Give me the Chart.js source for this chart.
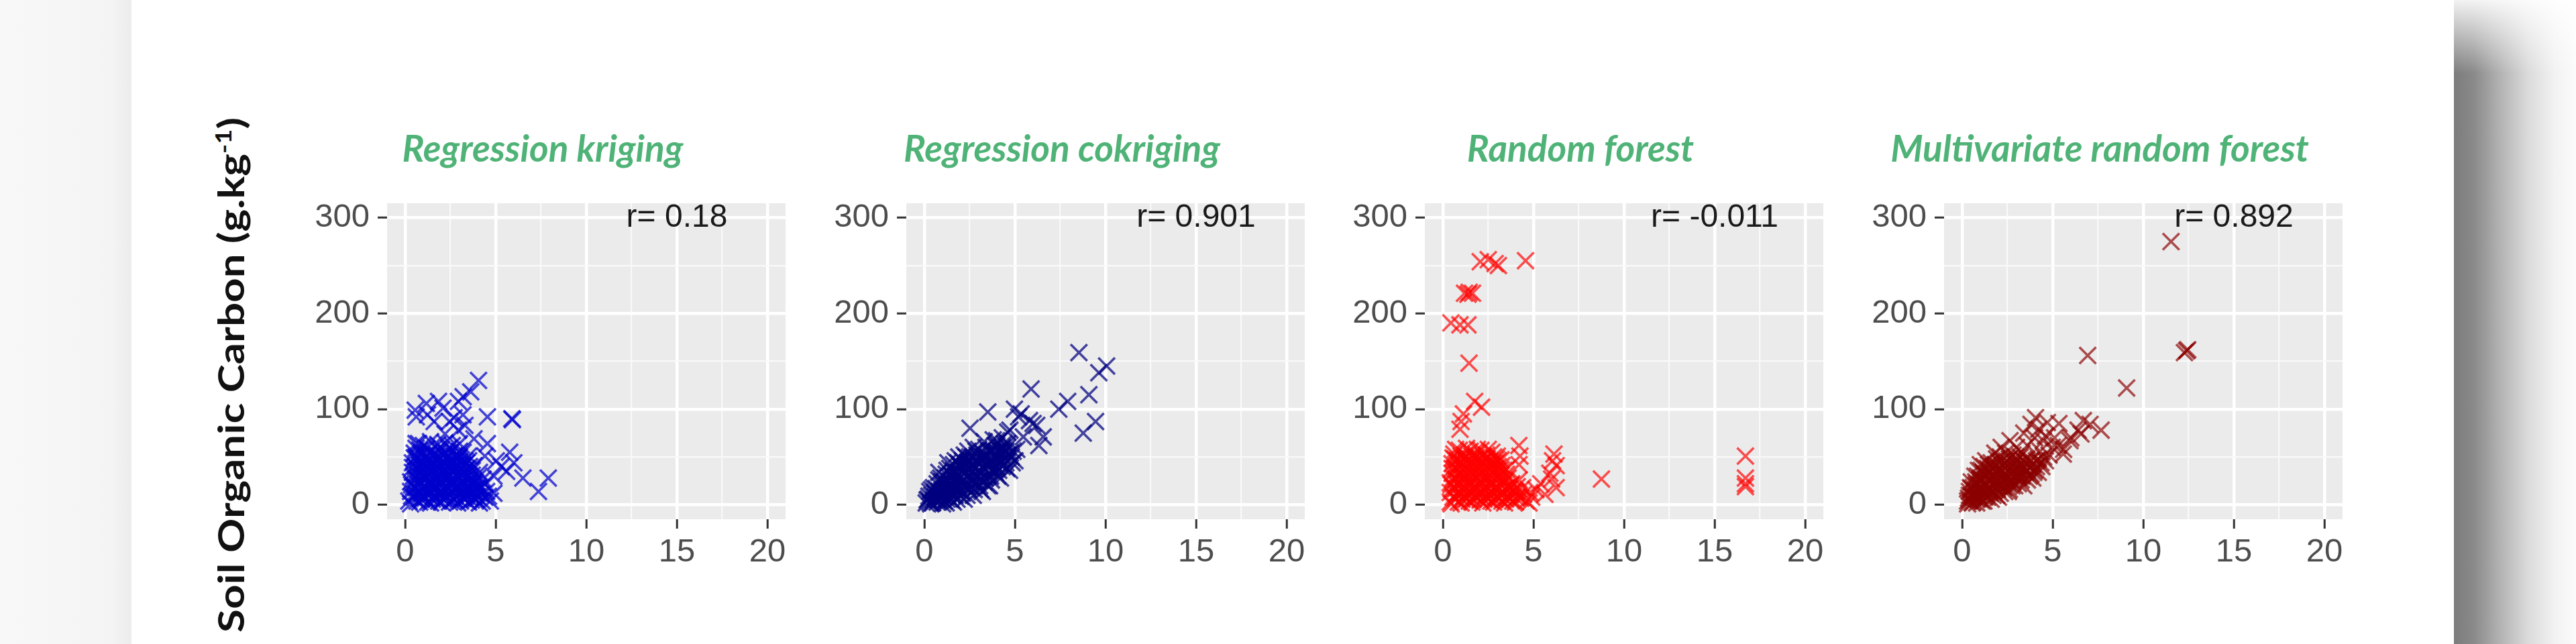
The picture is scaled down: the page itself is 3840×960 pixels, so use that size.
<!DOCTYPE html>
<html>
<head>
<meta charset="utf-8">
<title>Soil organic carbon - predicted vs observed</title>
<script src="https://cdn.jsdelivr.net/npm/chart.js@4.4.1/dist/chart.umd.min.js"></script>
<style>
    html, body { margin: 0; padding: 0; }
    body { width: 3840px; height: 960px; position: relative; overflow: hidden; background: #fff; }
    #leftMargin { position: absolute; left: 0; top: 0; width: 196px; height: 960px;
        background: linear-gradient(to right, #f8f8f8, #f4f4f4 85%, #ececec); }
    #rightShadow { position: absolute; left: 3658px; top: 0; width: 182px; height: 960px;
        background: linear-gradient(to right, #7c7c7c 0px, #8a8a8a 30px, #b4b4b4 70px, #dadada 110px, #f2f2f2 150px, #fbfbfb 182px); }
    #rightShadow::after { content: ""; position: absolute; left: 0; top: 0; right: 0; bottom: 0;
        background: linear-gradient(to bottom, rgba(255,255,255,0.9) 0px, rgba(255,255,255,0) 110px); }
    #yTitle { position: absolute; left: 343px; top: 559px; white-space: nowrap;
        font-family: Lato, "Open Sans", sans-serif; font-weight: bold; font-size: 54px; color: #111;
        transform-origin: center center; }
    #yTitle sup { font-size: 0.6em; }
    canvas { position: absolute; }
</style>
</head>
<body>
<div id="leftMargin"></div>
<div id="rightShadow"></div>
<div id="yTitle">Soil Organic Carbon (g.kg<sup>-1</sup>)</div>
<script>
const xMajorTicks = [0, 5, 10, 15, 20];
const xMinorTicks = [2.5, 7.5, 12.5, 17.5];
const yMajorTicks = [0, 100, 200, 300];
const yMinorTicks = [50, 150, 250];

const panelTitles = ["Regression kriging", "Regression cokriging", "Random forest", "Multivariate random forest"];
const correlationLabels = ["r= 0.18", "r= 0.901", "r= -0.011", "r= 0.892"];
const markerColors = ["rgba(0, 0, 205, 0.72)", "rgba(0, 0, 128, 0.72)", "rgba(255, 0, 0, 0.68)", "rgba(139, 0, 0, 0.68)"];

// regression kriging [x, y]
const rkPoints = [
    [4.05,130],[3.62,118],[3.2,113],[2.94,108],[1.84,108],[1.17,106],[0.55,99],[0.61,92],[1.23,94],[2.09,101],
    [2.45,87],[4.54,92],[5.89,90],[5.92,89],[3.19,94],[1.6,87],[2.94,78],[2.2,74],[4.54,64],[3.8,69],
    [5.77,55],[6.0,44],[6.5,28],[7.36,14],[7.9,28],[5.03,46],[4.4,51],[0.74,64],[3.3,83],[2.7,91],
    [5.3,40],[5.6,35],[4.9,30],
    [0.2,4],[0.5,8],[0.8,3],[1.1,7],[1.4,2],[1.7,6],[2.0,3],[2.3,8],[2.6,4],[2.9,2],[3.2,7],[3.5,3],[3.8,6],[4.1,2],[4.4,8],[4.7,4],
    [0.3,14],[0.6,18],[0.9,12],[1.2,16],[1.5,13],[1.8,18],[2.1,12],[2.4,17],[2.7,14],[3.0,18],[3.3,12],[3.6,16],[3.9,13],[4.2,18],[4.5,14],[4.9,12],
    [0.3,24],[0.6,27],[0.9,22],[1.2,28],[1.5,23],[1.8,26],[2.1,22],[2.4,28],[2.7,24],[3.0,27],[3.3,22],[3.6,26],[3.9,23],[4.3,27],
    [0.4,34],[0.7,37],[1.0,32],[1.3,36],[1.6,33],[1.9,38],[2.2,33],[2.5,36],[2.8,32],[3.1,37],[3.4,33],[3.7,36],[4.1,34],
    [0.4,44],[0.7,47],[1.0,42],[1.3,46],[1.6,43],[1.9,48],[2.2,43],[2.5,46],[2.8,42],[3.1,47],[3.4,44],[3.8,41],
    [0.5,54],[0.8,57],[1.1,52],[1.4,56],[1.7,53],[2.0,58],[2.3,54],[2.6,57],[2.9,52],[3.2,55],[3.5,51],
    [0.6,64],[1.0,62],[1.4,66],[1.8,63],[2.2,65],[2.6,62],[3.0,64],
    [0.35,9],[0.65,4],[0.95,8],[1.25,3],[1.55,9],[1.85,4],[2.15,7],[2.45,3],[2.75,9],[3.05,4],[3.35,9],[3.65,5],[3.95,9],[4.25,4],
    [0.45,19],[0.75,14],[1.05,20],[1.35,15],[1.65,19],[1.95,14],[2.25,20],[2.55,15],[2.85,19],[3.15,14],[3.45,20],[3.75,15],[4.05,19],
    [0.45,30],[0.75,25],[1.05,29],[1.35,24],[1.65,30],[1.95,25],[2.25,29],[2.55,24],[2.85,30],[3.15,25],[3.45,29],[3.75,24],
    [0.55,40],[0.85,35],[1.15,41],[1.45,36],[1.75,40],[2.05,35],[2.35,41],[2.65,36],[2.95,40],[3.25,35],[3.55,40],
    [0.6,50],[0.9,45],[1.2,50],[1.5,45],[1.8,51],[2.1,46],[2.4,50],[2.7,45],[3.0,50],[3.3,46],
    [0.3,1],[0.6,11],[0.9,6],[1.2,11],[1.5,6],[1.8,11],[2.1,6],[2.4,11],[2.7,6],[3.0,11],[3.3,6],[3.6,11],[3.9,6],[4.2,11],[4.6,9],
    [0.35,21],[0.7,21],[1.0,17],[1.3,21],[1.6,17],[1.9,21],[2.2,17],[2.5,21],[2.8,17],[3.1,21],[3.4,17],[3.7,21],[4.0,17],[4.4,22],
    [0.4,39],[0.7,31],[1.0,37],[1.3,31],[1.6,38],[1.9,31],[2.2,37],[2.5,31],[2.8,38],[3.1,31],[3.4,38],[3.7,31],[4.0,28],
    [0.5,49],[0.8,41],[1.1,48],[1.4,41],[1.7,48],[2.0,41],[2.3,48],[2.6,41],[2.9,48],[3.2,41],[3.5,46],
    [0.6,59],[0.9,52],[1.2,59],[1.5,52],[1.8,58],[2.1,52],[2.4,59],[2.7,51],[3.0,56]
];

// regression cokriging [x, y]
const rckPoints = [
    [8.53,159],[10.06,145],[9.63,138],[5.89,121],[9.08,115],[7.91,108],[7.42,100],[3.5,97],[4.97,100],[5.34,95],
    [9.45,87],[8.77,75],[6.0,85],[5.8,88],[6.2,83],[6.56,71],[6.32,62],[4.6,76],[2.52,80],[3.99,67],
    [4.72,78],[5.2,92],[5.46,71],[4.6,60],
    [0.1,2],[0.2,6],[0.3,3],[0.4,10],[0.5,5],[0.3,14],[0.5,18],
    [0.6,8],[0.7,3],[0.8,14],[0.9,6],[1.0,20],[0.7,22],[0.9,28],[1.0,12],[0.8,34],[1.0,1],
    [1.1,4],[1.2,16],[1.3,9],[1.4,25],[1.5,14],[1.2,32],[1.4,38],[1.5,5],[1.3,44],[1.6,3],
    [1.6,20],[1.7,10],[1.8,30],[1.9,16],[2.0,40],[1.7,46],[1.9,50],[2.0,24],[1.6,36],[2.2,6],
    [2.1,12],[2.2,32],[2.3,20],[2.4,45],[2.5,28],[2.2,52],[2.4,56],[2.5,38],[2.3,50],[2.7,10],
    [2.6,18],[2.7,40],[2.8,30],[2.9,52],[3.0,36],[2.7,60],[3.0,58],[2.9,24],[2.8,46],[3.2,14],
    [3.1,26],[3.2,46],[3.3,38],[3.4,60],[3.5,42],[3.3,66],[3.5,30],[3.2,54],[3.6,20],
    [3.6,36],[3.7,56],[3.8,44],[3.9,62],[4.0,50],[3.8,68],[4.0,40],[4.2,28],
    [4.2,48],[4.3,60],[4.4,42],[4.5,56],[4.6,64],[4.3,70],[4.8,50],[5.1,58],[5.0,46],[4.7,36],
    [0.25,9],[0.45,2],[0.55,13],[0.65,17],[0.85,9],[0.95,24],[1.05,16],[1.15,28],[1.25,6],[1.35,20],
    [1.45,31],[1.55,10],[1.65,26],[1.75,34],[1.85,20],[1.95,42],[2.05,14],[2.15,36],[2.25,26],[2.35,44],
    [2.45,16],[2.55,34],[2.65,50],[2.75,24],[2.85,38],[2.95,46],[3.05,20],[3.15,34],[3.25,50],[3.35,28],
    [3.45,44],[3.55,56],[3.65,30],[3.75,48],[3.85,38],[3.95,56],[4.05,30],[4.15,44],[4.25,52],[4.45,48],
    [4.55,38],[4.75,54],
    [0.15,5],[0.35,1],[0.4,16],[0.6,12],[0.75,5],[0.8,26],[0.95,15],[1.05,9],[1.1,24],[1.2,2],
    [1.25,36],[1.35,14],[1.45,22],[1.55,30],[1.6,42],[1.7,16],[1.8,6],[1.85,44],[1.9,28],[2.0,9],
    [2.1,46],[2.15,20],[2.25,40],[2.35,10],[2.4,30],[2.5,50],[2.6,24],[2.65,42],[2.75,16],[2.85,56],
    [2.95,30],[3.05,48],[3.1,16],[3.2,40],[3.3,24],[3.4,52],[3.5,20],[3.6,44],[3.7,26],[3.8,56],
    [3.9,34],[4.0,62],[4.1,36],[4.2,56],[4.3,40],[4.4,64],[4.5,44],[4.6,52],[4.9,56],[4.85,44]
];

// random forest [x, y]
const rfPoints = [
    [2.06,254],[2.5,256],[2.88,252],[3.06,250],[4.56,255],[1.19,221],[1.63,221],[1.38,220],[1.45,222],[0.44,190],
    [0.94,188],[1.38,188],[1.44,148],[1.75,108],[2.13,102],[1.13,95],[1.0,87],[0.94,79],[4.19,62],[4.25,51],
    [4.2,42],[6.13,53],[6.05,46],[6.25,41],[5.9,33],[6.0,27],[6.25,18],[8.75,27],[5.13,16],[5.63,11],
    [5.4,22],[16.7,51],[16.7,28],[16.7,22],[16.7,19],
    [0.4,3],[0.7,7],[1.0,2],[1.3,6],[1.6,3],[1.9,8],[2.2,2],[2.5,6],[2.8,3],[3.1,7],[3.4,2],[3.7,6],[4.0,3],[4.3,7],[4.6,4],[4.9,8],
    [0.4,13],[0.7,17],[1.0,12],[1.3,16],[1.6,13],[1.9,18],[2.2,12],[2.5,17],[2.8,13],[3.1,16],[3.4,12],[3.7,17],[4.0,14],[4.4,18],[4.8,13],
    [0.4,23],[0.7,27],[1.0,22],[1.3,26],[1.6,23],[1.9,28],[2.2,22],[2.5,26],[2.8,23],[3.1,27],[3.4,24],[3.8,22],[4.2,26],
    [0.5,33],[0.8,37],[1.1,32],[1.4,36],[1.7,33],[2.0,38],[2.3,32],[2.6,36],[2.9,33],[3.2,37],[3.5,32],
    [0.5,43],[0.8,47],[1.1,42],[1.4,46],[1.7,43],[2.0,48],[2.3,42],[2.6,46],[2.9,43],[3.2,47],
    [0.6,53],[0.9,57],[1.2,52],[1.5,56],[1.8,53],[2.1,57],[2.4,52],[2.7,55],[3.0,51],
    [0.55,8],[0.85,3],[1.15,9],[1.45,4],[1.75,9],[2.05,5],[2.35,9],[2.65,4],[2.95,8],[3.25,4],[3.55,9],[3.85,4],[4.15,9],
    [0.55,18],[0.85,13],[1.15,19],[1.45,14],[1.75,18],[2.05,13],[2.35,19],[2.65,14],[2.95,18],[3.25,13],[3.55,19],[3.9,15],
    [0.55,28],[0.85,24],[1.15,29],[1.45,25],[1.75,29],[2.05,24],[2.35,28],[2.65,24],[2.95,29],[3.25,25],[3.6,28],
    [0.65,38],[0.95,34],[1.25,39],[1.55,35],[1.85,40],[2.15,35],[2.45,39],[2.75,35],[3.05,40],[3.35,36],
    [0.65,48],[0.95,44],[1.25,49],[1.55,45],[1.85,49],[2.15,44],[2.45,48],[2.75,44],[3.05,46],
    [0.45,1],[0.75,11],[1.05,6],[1.35,11],[1.65,6],[1.95,11],[2.25,6],[2.55,11],[2.85,6],[3.15,11],[3.45,6],[3.75,11],[4.05,7],[4.45,11],[4.75,2],
    [0.45,21],[0.75,21],[1.05,17],[1.35,21],[1.65,17],[1.95,21],[2.25,17],[2.55,21],[2.85,17],[3.15,21],[3.45,17],[3.75,21],[4.1,19],
    [0.5,38],[0.8,31],[1.1,37],[1.4,31],[1.7,38],[2.0,31],[2.3,37],[2.6,31],[2.9,38],[3.2,31],[3.5,37],
    [0.55,49],[0.85,41],[1.15,48],[1.45,41],[1.75,48],[2.05,41],[2.35,48],[2.65,41],[2.95,48],[3.25,41],
    [0.7,58],[1.0,51],[1.3,59],[1.6,51],[1.9,58],[2.2,51],[2.5,58],[2.8,50]
];

// multivariate random forest [x, y]
const mrfPoints = [
    [11.53,275],[12.39,161],[12.27,159],[12.45,162],[6.93,156],[9.08,122],[4.05,91],[5.34,85],[6.69,88],[7.67,78],
    [7.06,84],[4.23,79],[6.56,74],[5.95,67],[4.97,60],[5.58,53],[4.48,67],[2.64,67],[2.15,60],[3.8,84],
    [4.6,72],[5.1,70],[3.0,60],[3.6,62],[4.0,70],[3.4,75],[4.8,52],[5.3,62],[5.6,58],[6.0,70],[6.4,78],[4.7,86],
    [0.3,1],[0.4,5],[0.5,10],[0.6,3],[0.4,14],[0.6,18],[0.5,24],[0.7,30],
    [0.7,8],[0.8,2],[0.9,14],[1.0,6],[0.8,22],[1.0,28],[0.9,36],[1.0,42],
    [1.1,4],[1.2,12],[1.3,20],[1.4,8],[1.5,26],[1.2,32],[1.4,38],[1.3,46],[1.5,16],
    [1.6,6],[1.7,14],[1.8,24],[1.9,10],[2.0,32],[1.7,40],[1.9,48],[2.0,20],[1.8,54],
    [2.1,12],[2.2,26],[2.3,18],[2.4,38],[2.5,22],[2.2,46],[2.4,54],[2.5,30],
    [2.6,16],[2.7,32],[2.8,24],[2.9,44],[3.0,28],[2.8,52],[3.0,38],
    [3.1,22],[3.2,36],[3.3,30],[3.4,46],[3.5,34],[3.6,26],[3.3,54],
    [3.8,32],[3.9,42],[4.0,36],[4.2,48],[4.4,40],[4.6,46],[4.3,56],
    [0.35,7],[0.45,18],[0.55,2],[0.65,12],[0.75,20],[0.85,6],[0.95,26],[1.05,16],[1.15,34],[1.25,8],
    [1.35,24],[1.45,42],[1.55,12],[1.65,30],[1.75,20],[1.85,36],[1.95,16],[2.05,44],[2.15,26],[2.25,36],
    [2.35,14],[2.45,46],[2.55,24],[2.65,38],[2.75,20],[2.85,34],[2.95,50],[3.05,32],[3.15,44],[3.25,26],
    [3.45,38],[3.55,48],[3.7,30],[3.75,40],[3.95,34],[4.1,46],[4.35,44],
    [0.3,4],[0.4,10],[0.5,17],[0.6,8],[0.7,14],[0.75,24],[0.85,30],[0.9,10],[1.0,20],[1.05,36],
    [1.1,26],[1.2,4],[1.2,40],[1.3,14],[1.35,30],[1.45,18],[1.5,34],[1.6,44],[1.65,22],[1.7,10],
    [1.8,30],[1.85,42],[1.9,24],[2.0,8],[2.05,38],[2.1,50],[2.2,20],[2.3,32],[2.35,42],[2.45,28],
    [2.55,14],[2.6,48],[2.7,26],[2.8,40],[2.9,20],[3.0,46],[3.1,30],[3.2,50],[3.3,40],[3.4,20],
    [3.5,44],[3.6,36],[3.8,46],[3.9,28],[4.1,40],[4.2,34],[4.5,50]
];

const seriesPoints = [rkPoints, rckPoints, rfPoints, mrfPoints];

// layout (pixels)
const PANEL_LEFTS = [577, 1351, 2124, 2898];
const PANEL_WIDTH = 594;
const Y_AXIS_W = 130;
const X_AXIS_H = 100;
const RIGHT_PAD = 40;
const CANVAS_TOP = 170;
const CANVAS_H = 704;
const TITLE_SIZE = 55;
const LABEL_AT = { x: 15, y: 300 };

const panelBackground = {
    id: "panelBackground",
    beforeDraw(chart) {
        const { ctx, chartArea } = chart;
        ctx.save();
        ctx.fillStyle = "#ebebeb";
        ctx.fillRect(chartArea.left, chartArea.top, chartArea.right - chartArea.left, chartArea.bottom - chartArea.top);
        ctx.restore();
    }
};

const corrLabel = {
    id: "corrLabel",
    afterDatasetsDraw(chart, args, opts) {
        const { ctx, scales } = chart;
        ctx.save();
        ctx.font = '48px "Liberation Sans", Arial, sans-serif';
        ctx.fillStyle = "#1a1a1a";
        ctx.textAlign = "center";
        ctx.textBaseline = "middle";
        ctx.fillText(opts.text, scales.x.getPixelForValue(LABEL_AT.x), scales.y.getPixelForValue(LABEL_AT.y));
        ctx.restore();
    }
};

function gridStyle(majors) {
    const isMajor = (c) => c.tick && majors.includes(c.tick.value);
    return {
        color: (c) => isMajor(c) ? "#ffffff" : "#f9f9f9",
        lineWidth: (c) => isMajor(c) ? 4.5 : 2.2,
        tickColor: (c) => isMajor(c) ? "#333333" : "rgba(0,0,0,0)",
        tickWidth: 3,
        tickLength: 14,
    };
}

function makePanel(i) {
    const canvas = document.createElement("canvas");
    canvas.width = Y_AXIS_W + PANEL_WIDTH + RIGHT_PAD;
    canvas.height = CANVAS_H;
    canvas.style.left = (PANEL_LEFTS[i] - Y_AXIS_W) + "px";
    canvas.style.top = CANVAS_TOP + "px";
    document.body.appendChild(canvas);

    const tickFont = { family: '"Liberation Sans", Arial, sans-serif', size: 49 };
    // title line centred 53px below the canvas top, plot area starting 133px below it
    const titleLine = TITLE_SIZE * 1.2;
    const titleTop = 53 - titleLine / 2;
    const titleBottom = 133 - titleTop - titleLine;

    return new Chart(canvas.getContext("2d"), {
        type: "scatter",
        data: {
            datasets: [{
                data: seriesPoints[i].map(([x, y]) => ({ x, y })),
                pointStyle: "crossRot",
                pointRadius: 17.5,
                pointHoverRadius: 17.5,
                borderWidth: 3.6,
                borderColor: markerColors[i],
                backgroundColor: markerColors[i],
            }]
        },
        options: {
            responsive: false,
            animation: false,
            layout: { padding: { left: 0, right: RIGHT_PAD, top: 0, bottom: 0 } },
            plugins: {
                legend: { display: false },
                tooltip: { enabled: false },
                title: {
                    display: true,
                    text: panelTitles[i],
                    color: "#4fb377",
                    font: { family: "Lato, sans-serif", size: TITLE_SIZE, style: "italic", weight: "bold" },
                    padding: { top: titleTop, bottom: titleBottom },
                },
                corrLabel: { text: correlationLabels[i] },
            },
            scales: {
                x: {
                    type: "linear",
                    min: -1,
                    max: 21,
                    afterBuildTicks: (s) => { s.ticks = [...xMajorTicks, ...xMinorTicks].sort((a, b) => a - b).map(v => ({ value: v })); },
                    afterFit: (s) => { s.height = X_AXIS_H; },
                    ticks: {
                        autoSkip: false,
                        maxRotation: 0,
                        padding: 6,
                        color: "#4d4d4d",
                        font: tickFont,
                        callback: (v) => xMajorTicks.includes(v) ? String(v) : "",
                    },
                    grid: gridStyle(xMajorTicks),
                    border: { display: false },
                },
                y: {
                    type: "linear",
                    min: -15,
                    max: 315,
                    afterBuildTicks: (s) => { s.ticks = [...yMajorTicks, ...yMinorTicks].sort((a, b) => a - b).map(v => ({ value: v })); },
                    afterFit: (s) => { s.width = Y_AXIS_W; },
                    ticks: {
                        autoSkip: false,
                        padding: 12,
                        color: "#4d4d4d",
                        font: tickFont,
                        callback: (v) => yMajorTicks.includes(v) ? String(v) : "",
                    },
                    grid: gridStyle(yMajorTicks),
                    border: { display: false },
                },
            },
        },
        plugins: [panelBackground, corrLabel],
    });
}

// fit the rotated axis title to its length in the figure
const yTitle = document.getElementById("yTitle");
const titleScale = 768 / yTitle.offsetWidth;
yTitle.style.transform = `translate(-50%, -50%) rotate(-90deg) scaleX(${titleScale})`;

for (let i = 0; i < seriesPoints.length; i++) {
    makePanel(i);
}
</script>
</body>
</html>
